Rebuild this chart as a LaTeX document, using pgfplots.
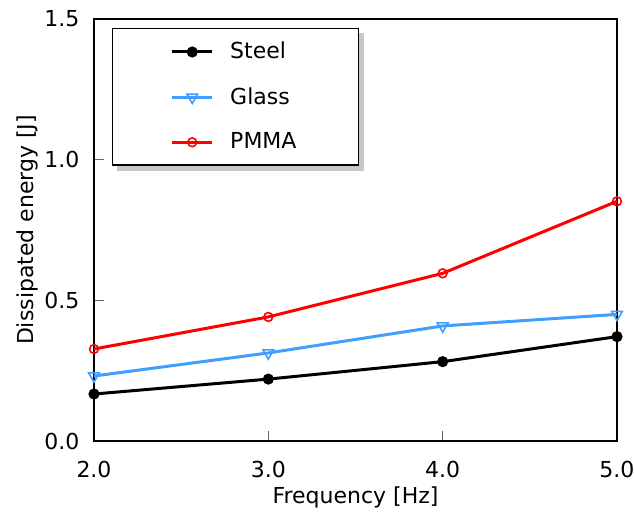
\documentclass[border=0pt]{standalone}
\usepackage{pgfplots}
\pgfplotsset{compat=1.18}
\usepackage{fontspec}
\setmainfont{DejaVu Sans}
\pgfdeclarelayer{background}
\pgfsetlayers{background,main}
\definecolor{glassblue}{RGB}{64,158,255}
\begin{document}
\begin{tikzpicture}
\path[use as bounding box] (-47pt,-37pt) rectangle (270pt,220.5pt);
\begin{axis}[
  at={(0,0)}, anchor=south west,
  scale only axis, width=261.5pt, height=211pt,
  xmin=2, xmax=5, ymin=0, ymax=1.5,
  xtick={2,3,4,5}, ytick={0,0.5,1.0,1.5},
  axis line style={line width=0.8pt},
  tick style={black!60, line width=0.5pt},
  major tick length=5pt,
  tick align=inside,
  xtick pos=bottom, ytick pos=left,
  font=\fontsize{11}{13}\selectfont,
  /pgf/number format/assume math mode=true,
  /pgf/number format/fixed,
  /pgf/number format/fixed zerofill,
  /pgf/number format/precision=1,
  every x tick label/.append style={yshift=-6.8pt},
  every y tick label/.append style={xshift=-3.8pt},
  xlabel={Frequency [Hz]},
  ylabel={Dissipated energy [J]},
  xlabel style={at={(axis description cs:0.5,0)}, anchor=base, yshift=-31pt},
  ylabel style={at={(axis description cs:-0.1166,0.5)}, anchor=base},
  legend style={name=leg, at={(axis description cs:0.0344,0.9787)}, anchor=north west,
    draw=black, line width=0.75pt, fill=white,
    inner xsep=29pt, inner ysep=4.7pt, row sep=8.8pt,
    nodes={font=\fontsize{11}{13}\selectfont}},
  legend cell align=left,
  legend image post style={line width=1.5pt},
  legend image code/.code={\path[draw=none,fill=none] (0pt,-0.5pt) rectangle (27pt,0.5pt); \draw[mark repeat=2,mark phase=2,#1] plot coordinates {(0pt,0pt) (10pt,0pt) (20pt,0pt)};},
]
\addplot[black, line width=1.5pt, mark=*, mark size=2pt, mark options={solid, fill=black}]
  coordinates {(2,0.167) (3,0.220) (4,0.282) (5,0.371)};
\addlegendentry{Steel}
\addplot[glassblue, line width=1.5pt, mark=triangle, mark size=3.1pt, mark options={solid, rotate=180, fill=white, line width=0.8pt}]
  coordinates {(2,0.231) (3,0.313) (4,0.409) (5,0.450)};
\addlegendentry{Glass}
\addplot[red, line width=1.5pt, mark=o, mark size=2.2pt, mark options={solid, fill=white, line width=0.8pt}]
  coordinates {(2,0.327) (3,0.441) (4,0.596) (5,0.852)};
\addlegendentry{PMMA}
\end{axis}
\begin{pgfonlayer}{background}
\fill[black!22] ([shift={(2.5pt,-2.5pt)}]leg.south west) rectangle ([shift={(2.5pt,-2.5pt)}]leg.north east);
\end{pgfonlayer}
\end{tikzpicture}
\end{document}
